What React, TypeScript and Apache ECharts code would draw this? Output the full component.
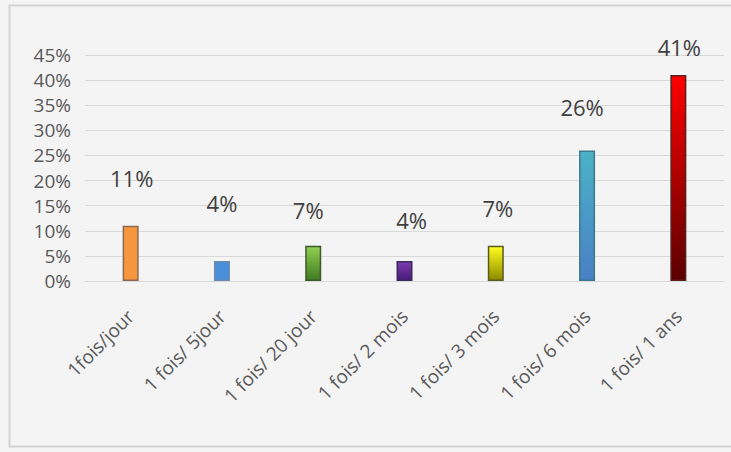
import React, { useEffect, useRef } from "react";
import * as echarts from "echarts";

const categories = [
  "1fois/jour",
  "1 fois/ 5jour",
  "1 fois/ 20 jour",
  "1 fois/ 2 mois",
  "1 fois/ 3 mois",
  "1 fois/ 6 mois",
  "1 fois/ 1 ans",
];
const values = [11, 4, 7, 4, 7, 26, 41];
const topColors = ["#f7963f", "#4a8fdc", "#92d050", "#7a3fb0", "#ffff20", "#4bb2c6", "#ff0000"];
const bottomColors = ["#f7963f", "#4a8fdc", "#3f7a22", "#4a1a78", "#8a8a00", "#4a7fc6", "#5a0000"];
const borderColors = ["#8a6a50", "#6a8ab0", "#3d5a2a", "#3a2a5a", "#5a5a20", "#3a7a8a", "#5a2020"];
const labelOffsets = [
  [1, -32],
  [0, -42],
  [-5, -20],
  [7, -25],
  [2, -22],
  [-5, -27],
  [1, -12],
];
const yTicks = { min: 0, max: 45, interval: 5 };

export default function App() {
  const ref = useRef<HTMLDivElement>(null);
  useEffect(() => {
    document.body.style.margin = "0";
    const chart = echarts.init(ref.current!, null, { renderer: "svg" });
    const font = "'Open Sans', sans-serif";
    chart.setOption({
      animation: false,
      backgroundColor: "#f4f4f4",
      graphic: [
        {
          type: "rect",
          shape: { x: 9.5, y: 5.5, width: 740, height: 441 },
          style: { fill: "none", stroke: "#d4d4d4", lineWidth: 2 },
          silent: true,
        },
      ],
      grid: { left: 85, right: 7, top: 55, bottom: 171 },
      xAxis: {
        type: "category",
        data: categories,
        axisLine: { lineStyle: { color: "#d9d9d9", width: 1 } },
        axisTick: { show: false },
        axisLabel: {
          rotate: 45,
          interval: 0,
          color: "#595959",
          fontFamily: font,
          fontSize: 19,
          margin: 32,
        },
      },
      yAxis: {
        type: "value",
        min: yTicks.min,
        max: yTicks.max,
        interval: yTicks.interval,
        axisLine: { show: false },
        axisTick: { show: false },
        splitLine: { lineStyle: { color: "#d9d9d9", width: 1 } },
        axisLabel: {
          formatter: "{value}%",
          color: "#595959",
          fontFamily: font,
          fontSize: 19,
          margin: 14,
        },
      },
      series: [
        {
          type: "bar",
          barWidth: 16,
          data: values.map((v, i) => ({
            value: v,
            itemStyle: {
              color: new echarts.graphic.LinearGradient(0, 0, 0, 1, [
                { offset: 0, color: topColors[i] },
                { offset: 1, color: bottomColors[i] },
              ]),
              borderColor: borderColors[i],
              borderWidth: 1.5,
            },
            label: { offset: labelOffsets[i] },
          })),
          label: {
            show: true,
            position: "top",
            formatter: "{c}%",
            color: "#404040",
            fontFamily: font,
            fontSize: 22,
          },
        },
      ],
    });
    return () => chart.dispose();
  }, []);
  return <div ref={ref} style={{ width: 731, height: 452 }} />;
}
